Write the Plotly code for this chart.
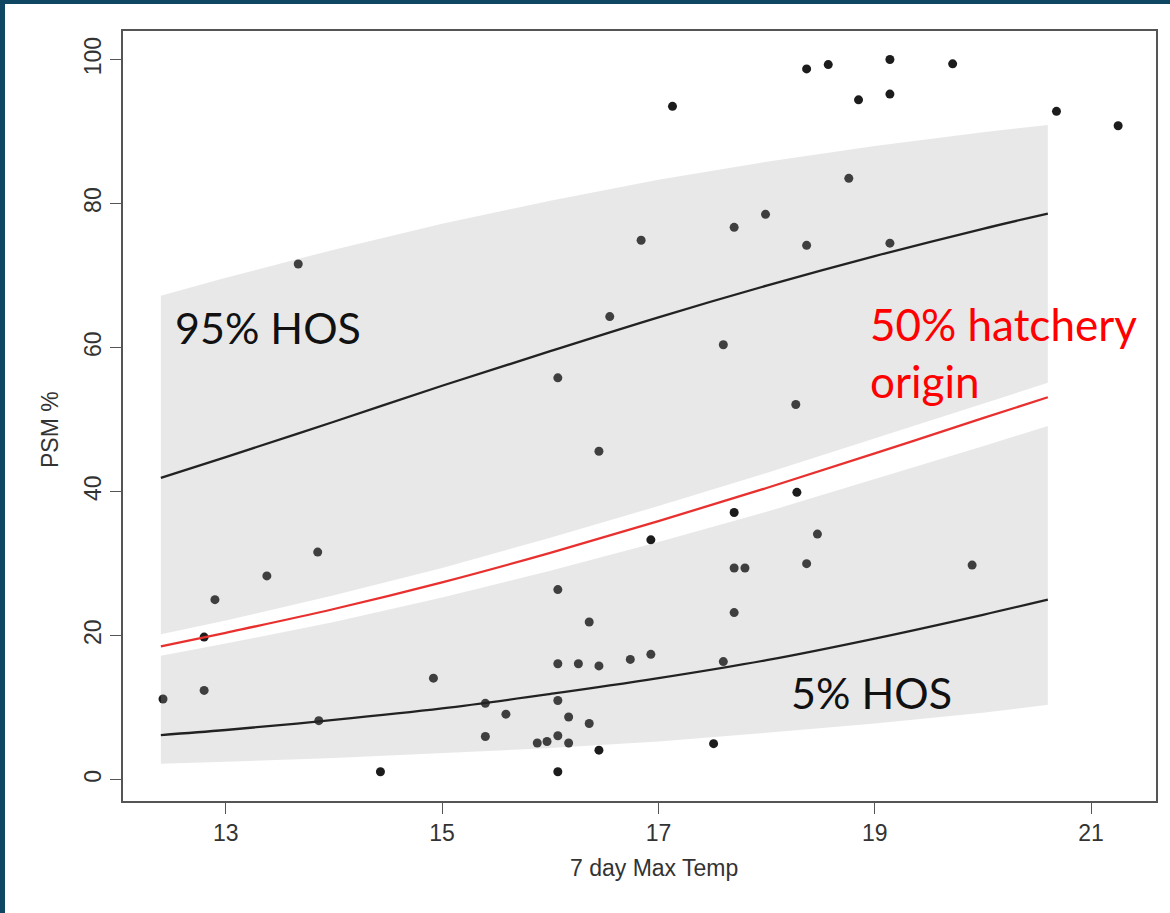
import plotly.graph_objects as go

# Observations: 7-day max temperature vs PSM %
temp = [12.42, 12.80, 12.80, 12.90, 13.38, 13.67, 13.85, 13.86, 14.43, 14.92,
        15.40, 15.40, 15.59, 15.88, 15.97, 16.07, 16.07, 16.07, 16.07, 16.07,
        16.07, 16.17, 16.17, 16.26, 16.36, 16.36, 16.45, 16.45, 16.45, 16.55,
        16.74, 16.84, 16.93, 16.93, 17.13, 17.51, 17.60, 17.60, 17.70, 17.70,
        17.70, 17.70, 17.80, 17.99, 18.27, 18.28, 18.37, 18.37, 18.37, 18.47,
        18.57, 18.76, 18.85, 19.14, 19.14, 19.14, 19.72, 19.90, 20.68, 21.25]
psm = [11.2, 19.8, 12.4, 25.0, 28.3, 71.6, 31.6, 8.2, 1.1, 14.1,
       10.6, 6.0, 9.1, 5.1, 5.3, 26.4, 16.1, 11.0, 6.1, 1.1,
       55.8, 8.7, 5.1, 16.1, 21.9, 7.8, 15.8, 4.1, 45.6, 64.3,
       16.7, 74.9, 17.4, 33.3, 93.5, 5.0, 60.4, 16.4, 76.7, 37.1,
       29.4, 23.2, 29.4, 78.5, 52.1, 39.9, 98.7, 74.2, 30.0, 34.1,
       99.3, 83.5, 94.4, 100.0, 95.2, 74.5, 99.4, 29.8, 92.8, 90.8]

# Fitted curves and their bands, sampled along temperature
curve_x = [12.4, 13, 14, 15, 16, 17, 18, 19, 20, 20.6]
hos95_fit = [41.9, 44.8, 49.7, 54.7, 59.5, 64.2, 68.6, 72.7, 76.5, 78.6]
hos95_hi = [67.2, 69.7, 73.6, 77.2, 80.4, 83.3, 85.8, 88.0, 89.9, 90.9]
hos95_lo = [20.2, 22.1, 25.6, 29.4, 33.6, 38.0, 42.6, 47.4, 52.2, 55.1]
hatch50 = [18.5, 20.4, 23.7, 27.4, 31.5, 35.9, 40.5, 45.3, 50.2, 53.1]
hos5_fit = [6.2, 6.9, 8.3, 9.9, 11.9, 14.1, 16.6, 19.6, 22.9, 25.0]
hos5_hi = [17.2, 18.9, 21.9, 25.3, 29.0, 33.0, 37.2, 41.7, 46.3, 49.1]
hos5_lo = [2.2, 2.5, 3.0, 3.7, 4.4, 5.3, 6.5, 7.8, 9.3, 10.4]

x_ticks = [13, 15, 17, 19, 21]
y_ticks = [0, 20, 40, 60, 80, 100]

AXIS = "#555555"
TICKFONT = dict(family="Liberation Sans, Arial, sans-serif", size=23, color="#333333")
LABELFONT = "Lato, Open Sans, sans-serif"

fig = go.Figure()

# points first so the translucent bands tint those that fall inside them
fig.add_trace(go.Scatter(
    x=temp, y=psm, mode="markers",
    marker=dict(size=9, color="#1c1c1c"),
    hoverinfo="x+y", showlegend=False))

band_fill = "rgba(166,166,166,0.26)"
for hi, lo in [(hos95_hi, hos95_lo), (hos5_hi, hos5_lo)]:
    fig.add_trace(go.Scatter(
        x=curve_x + curve_x[::-1], y=hi + lo[::-1],
        mode="lines", fill="toself", fillcolor=band_fill,
        line=dict(width=0), hoverinfo="skip", showlegend=False))

for ys, col in [(hos95_fit, "#222222"), (hatch50, "#e8302f"), (hos5_fit, "#222222")]:
    fig.add_trace(go.Scatter(
        x=curve_x, y=ys, mode="lines",
        line=dict(color=col, width=2.3, shape="spline"),
        hoverinfo="skip", showlegend=False))

fig.add_annotation(x=12.51, y=62.8, text="95% HOS", showarrow=False,
                   xanchor="left", yanchor="middle",
                   font=dict(family=LABELFONT, size=43, color="#111111"))
fig.add_annotation(x=18.94, y=59.3, text="50% hatchery<br>origin", showarrow=False,
                   xanchor="left", yanchor="middle", align="left",
                   font=dict(family=LABELFONT, size=44, color="#ff0000"))
fig.add_annotation(x=18.21, y=12.1, text="5% HOS", showarrow=False,
                   xanchor="left", yanchor="middle",
                   font=dict(family=LABELFONT, size=43, color="#111111"))

# axis titles
fig.add_annotation(xref="paper", yref="paper", x=(654 - 123) / 1033, y=(801 - 868) / 770,
                   text="7 day Max Temp", showarrow=False,
                   xanchor="center", yanchor="middle", font=TICKFONT)
fig.add_annotation(xref="paper", yref="paper", x=(50 - 123) / 1033, y=(801 - 430) / 770,
                   text="PSM %", showarrow=False, textangle=-90,
                   xanchor="center", yanchor="middle", font=TICKFONT)

# dark frame along the top and left edges of the page
frame = "#0f4661"
fig.add_shape(type="rect", xref="paper", yref="paper",
              x0=-123 / 1033, x1=(5 - 123) / 1033, y0=-112 / 770, y1=801 / 770,
              fillcolor=frame, line=dict(width=0), layer="above")
fig.add_shape(type="rect", xref="paper", yref="paper",
              x0=-123 / 1033, x1=1047 / 1033, y0=797 / 770, y1=801 / 770,
              fillcolor=frame, line=dict(width=0), layer="above")

fig.update_layout(
    width=1170, height=913,
    margin=dict(l=123, r=14, t=31, b=112),
    paper_bgcolor="white", plot_bgcolor="white",
    xaxis=dict(range=[12.05, 21.6], tickvals=x_ticks, ticks="outside", ticklen=11,
               tickcolor=AXIS, tickwidth=1.3, showline=True, mirror=True,
               linecolor=AXIS, linewidth=1.6, showgrid=False, zeroline=False,
               tickfont=TICKFONT),
    yaxis=dict(range=[-2.96, 103.96], tickvals=y_ticks, ticks="outside", ticklen=11,
               tickcolor=AXIS, tickwidth=1.3, showline=True, mirror=True,
               linecolor=AXIS, linewidth=1.6, showgrid=False, zeroline=False,
               tickangle=-90, tickfont=TICKFONT),
)

fig.write_html("out.html")
